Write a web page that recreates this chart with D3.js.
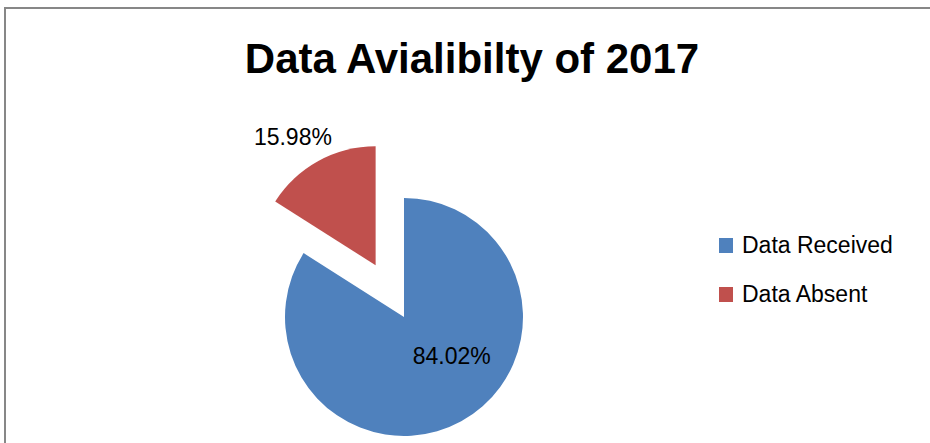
<!DOCTYPE html>
<html><head><meta charset="utf-8">
<script src="https://cdn.jsdelivr.net/npm/d3@7"></script>
<style>body{margin:0;background:#fff}svg{display:block}</style>
</head><body>
<svg id="c" width="930" height="443"></svg>
<script>
const categories = ["Data Received", "Data Absent"];
const values = [84.02, 15.98];
const labels = ["84.02%", "15.98%"];
const colors = ["#4F81BD", "#C0504D"];
const title = "Data Avialibilty of 2017";

const svg = d3.select("#c");
const W = 930, H = 443;
svg.append("rect").attr("width", W).attr("height", H).attr("fill", "#fff");
svg.append("rect").attr("x", 5).attr("y", 8).attr("width", 1200).attr("height", 1200)
  .attr("fill", "none").attr("stroke", "#878787").attr("stroke-width", 2);

svg.append("text").attr("x", 472).attr("y", 73).attr("text-anchor", "middle")
  .attr("font-family", "Liberation Sans, Arial, sans-serif").attr("font-weight", "bold")
  .attr("font-size", 42).attr("fill", "#000").text(title);

const cx = 404, cy = 317, r = 119, explode = 59;
const pie = d3.pie().sort(null).value(d => d)(values);
const arc = d3.arc().innerRadius(0).outerRadius(r);
const g = svg.append("g").attr("transform", `translate(${cx},${cy})`);
const explodeIdx = 1;
// label offsets relative to slice (layout, not data)
const labelPos = [{rad: 0.52, dx: 18, dy: -15}, {rad: 1.27, dx: -10, dy: 4}];

pie.forEach((p, i) => {
  const mid = (p.startAngle + p.endAngle) / 2;
  const e = i === explodeIdx ? explode : 0;
  const ox = Math.sin(mid) * e, oy = -Math.cos(mid) * e;
  const sg = g.append("g").attr("transform", `translate(${ox},${oy})`);
  sg.append("path").attr("d", arc(p)).attr("fill", colors[i]);
  const lp = labelPos[i];
  const lr = r * lp.rad;
  sg.append("text")
    .attr("x", Math.sin(mid) * lr + lp.dx)
    .attr("y", -Math.cos(mid) * lr + lp.dy)
    .attr("text-anchor", "middle").attr("dominant-baseline", "central")
    .attr("font-family", "Liberation Sans, Arial, sans-serif").attr("font-size", 23)
    .attr("fill", "#000").text(labels[i]);
});

const leg = svg.append("g").attr("transform", "translate(719,238)");
categories.forEach((c, i) => {
  const row = leg.append("g").attr("transform", `translate(0,${i * 49})`);
  row.append("rect").attr("width", 14).attr("height", 15).attr("fill", colors[i]);
  row.append("text").attr("x", 23).attr("y", 15)
    .attr("font-family", "Liberation Sans, Arial, sans-serif").attr("font-size", 23)
    .attr("fill", "#000").text(c);
});
</script>
</body></html>
